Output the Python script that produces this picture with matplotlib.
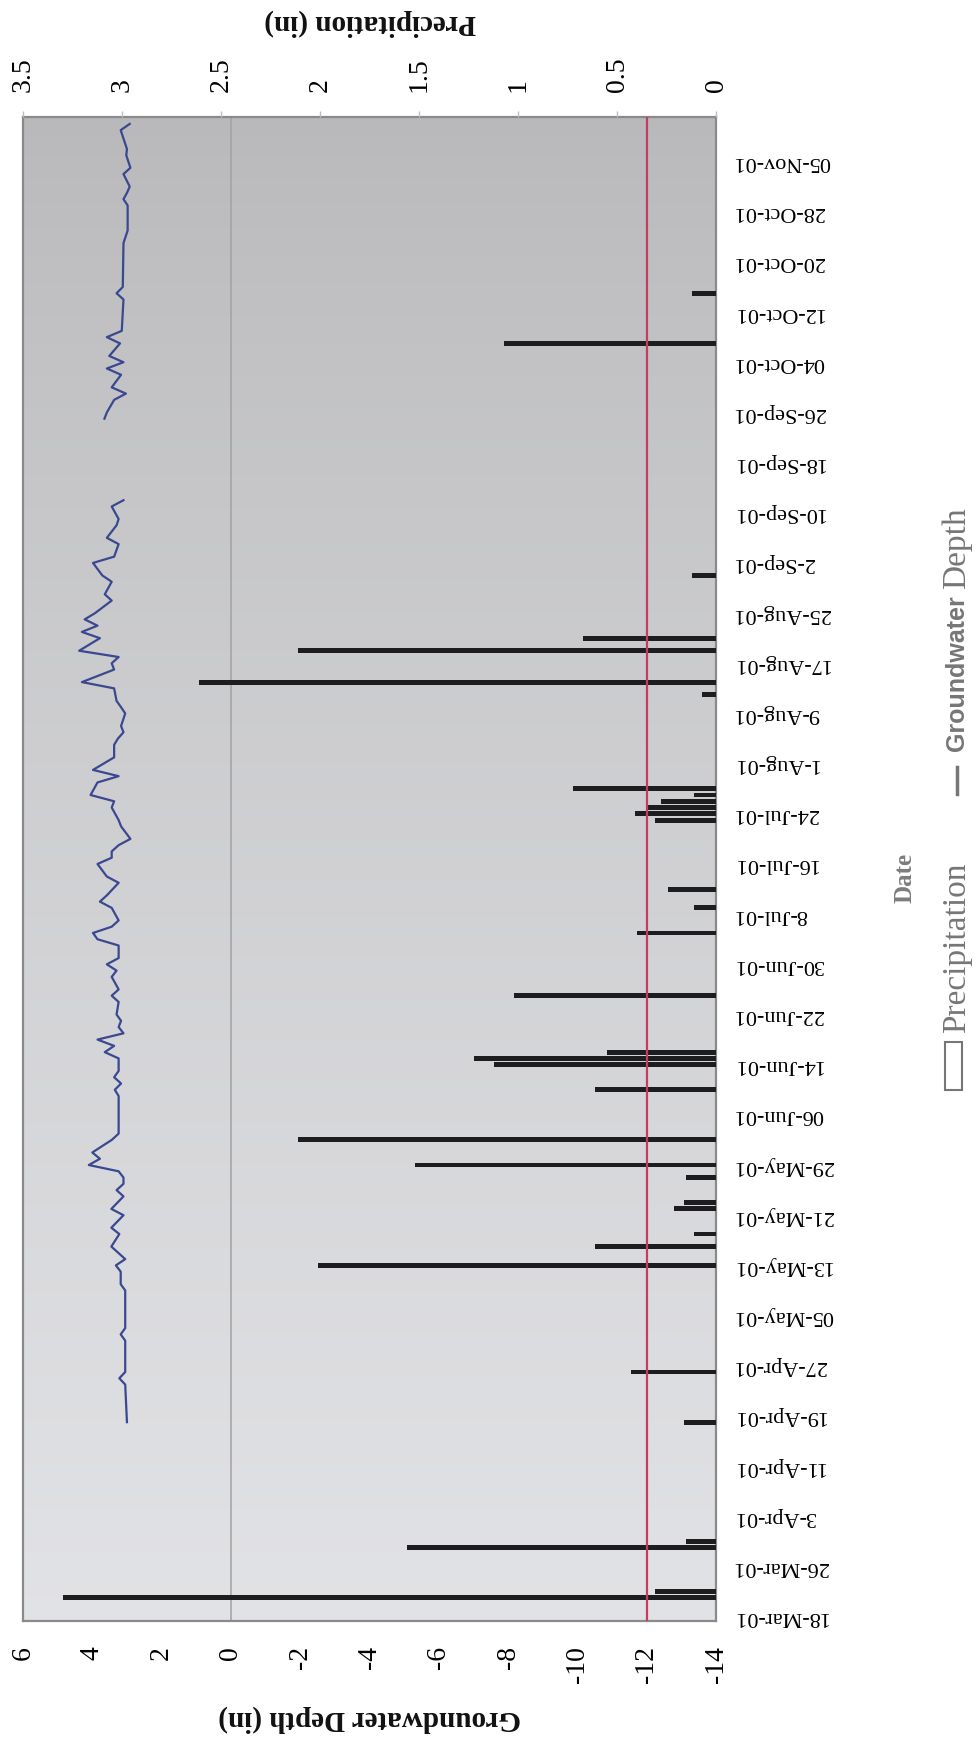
import numpy as np
import pandas as pd
import matplotlib
matplotlib.use('Agg')
import matplotlib.pyplot as plt
import matplotlib.dates as mdates
from matplotlib.lines import Line2D
from matplotlib.patches import Rectangle

plt.rcParams['axes.unicode_minus'] = False
serif = ['Liberation Serif', 'DejaVu Serif']
narrow = ['Liberation Sans Narrow', 'Liberation Sans', 'DejaVu Sans']

# daily rainfall (in), only days with rain
rain_dates = ['2001-03-21', '2001-03-22', '2001-03-29', '2001-03-30', '2001-04-18',
              '2001-04-26', '2001-05-13', '2001-05-16', '2001-05-18', '2001-05-22',
              '2001-05-23', '2001-05-27', '2001-05-29', '2001-06-02', '2001-06-10',
              '2001-06-14', '2001-06-15', '2001-06-16', '2001-06-25', '2001-07-05',
              '2001-07-09', '2001-07-12', '2001-07-23', '2001-07-24', '2001-07-25',
              '2001-07-26', '2001-07-27', '2001-07-28', '2001-08-12', '2001-08-14',
              '2001-08-19', '2001-08-21', '2001-08-31', '2001-10-07', '2001-10-15']
rain_in = [3.30, 0.31, 1.56, 0.15, 0.16,
           0.43, 2.01, 0.61, 0.11, 0.21,
           0.16, 0.15, 1.52, 2.11, 0.61,
           1.12, 1.22, 0.55, 1.02, 0.40,
           0.11, 0.24, 0.31, 0.41, 0.35,
           0.28, 0.11, 0.72, 0.07, 2.61,
           2.11, 0.67, 0.12, 1.07, 0.12]

# groundwater depth (in), first logger run
gw1_dates = ['2001-04-18', '2001-04-24', '2001-04-25', '2001-04-26', '2001-05-01',
             '2001-05-02', '2001-05-03', '2001-05-06', '2001-05-09', '2001-05-10',
             '2001-05-12', '2001-05-13', '2001-05-14', '2001-05-16', '2001-05-18',
             '2001-05-19', '2001-05-21', '2001-05-22', '2001-05-24', '2001-05-25',
             '2001-05-26', '2001-05-27', '2001-05-28', '2001-05-29', '2001-05-30',
             '2001-05-31', '2001-06-02', '2001-06-03', '2001-06-09', '2001-06-10',
             '2001-06-11', '2001-06-12', '2001-06-13', '2001-06-15', '2001-06-16',
             '2001-06-17', '2001-06-18', '2001-06-19', '2001-06-20', '2001-06-21',
             '2001-06-22', '2001-06-24', '2001-06-25', '2001-06-26', '2001-06-28',
             '2001-06-29', '2001-06-30', '2001-07-01', '2001-07-03', '2001-07-04',
             '2001-07-05', '2001-07-06', '2001-07-07', '2001-07-09', '2001-07-10',
             '2001-07-11', '2001-07-13', '2001-07-14', '2001-07-16', '2001-07-17',
             '2001-07-18', '2001-07-19', '2001-07-20', '2001-07-22', '2001-07-23',
             '2001-07-25', '2001-07-26', '2001-07-27', '2001-07-29', '2001-07-30',
             '2001-07-31', '2001-08-02', '2001-08-04', '2001-08-05', '2001-08-06',
             '2001-08-07', '2001-08-09', '2001-08-10', '2001-08-11', '2001-08-13',
             '2001-08-14', '2001-08-16', '2001-08-17', '2001-08-18', '2001-08-19',
             '2001-08-21', '2001-08-22', '2001-08-23', '2001-08-24', '2001-08-25',
             '2001-08-27', '2001-08-28', '2001-08-30', '2001-08-31', '2001-09-02',
             '2001-09-03', '2001-09-05', '2001-09-06', '2001-09-08', '2001-09-09',
             '2001-09-11', '2001-09-12']
gw1_depth = [3.00, 3.05, 3.22, 3.05, 3.05,
             3.18, 3.05, 3.05, 3.05, 3.18,
             3.18, 3.32, 3.05, 3.45, 3.22,
             3.45, 3.10, 3.45, 3.10, 3.30,
             3.10, 3.10, 3.24, 4.10, 3.78,
             4.00, 3.44, 3.24, 3.24, 3.35,
             3.17, 3.37, 3.24, 3.24, 3.64,
             3.37, 3.85, 3.10, 3.24, 3.17,
             3.30, 3.24, 3.44, 3.24, 3.44,
             3.30, 3.58, 3.24, 3.24, 3.85,
             3.98, 3.44, 3.24, 3.44, 3.78,
             3.58, 3.24, 3.58, 3.85, 3.44,
             3.44, 3.24, 2.90, 3.17, 3.24,
             3.44, 3.37, 4.05, 3.85, 3.24,
             3.98, 3.37, 3.37, 3.26, 3.10,
             3.17, 3.05, 3.17, 3.30, 3.37,
             4.30, 3.37, 3.44, 3.24, 4.38,
             3.78, 4.30, 3.85, 4.22, 3.92,
             3.44, 3.64, 3.44, 3.71, 3.98,
             3.37, 3.24, 3.58, 3.30, 3.24,
             3.44, 3.10]

# second logger run after the September gap
gw2_dates = ['2001-09-25', '2001-09-26', '2001-09-28', '2001-09-29', '2001-09-30',
             '2001-10-02', '2001-10-03', '2001-10-04', '2001-10-05', '2001-10-07',
             '2001-10-08', '2001-10-09', '2001-10-14', '2001-10-15', '2001-10-16',
             '2001-10-23', '2001-10-25', '2001-10-29', '2001-10-30', '2001-10-31',
             '2001-11-01', '2001-11-03', '2001-11-04', '2001-11-06', '2001-11-07',
             '2001-11-10', '2001-11-11']
gw2_depth = [3.65, 3.58, 3.37, 3.03, 3.44,
             3.17, 3.58, 3.10, 3.51, 3.20,
             3.58, 3.15, 3.10, 3.30, 3.12,
             3.10, 2.98, 2.98, 3.10, 3.00,
             2.92, 3.10, 2.90, 3.02, 3.00,
             3.18, 2.92]

date_labels = ['18-Mar-01', '26-Mar-01', '3-Apr-01', '11-Apr-01', '19-Apr-01',
               '27-Apr-01', '05-May-01', '13-May-01', '21-May-01', '29-May-01',
               '06-Jun-01', '14-Jun-01', '22-Jun-01', '30-Jun-01', '8-Jul-01',
               '16-Jul-01', '24-Jul-01', '1-Aug-01', '9-Aug-01', '17-Aug-01',
               '25-Aug-01', '2-Sep-01', '10-Sep-01', '18-Sep-01', '26-Sep-01',
               '04-Oct-01', '12-Oct-01', '20-Oct-01', '28-Oct-01', '05-Nov-01']
depth_ticks = [6, 4, 2, 0, -2, -4, -6, -8, -10, -12, -14]
precip_ticks = [3.5, 3, 2.5, 2, 1.5, 1, 0.5, 0]
precip_labels = ['3.5', '3', '2.5', '2', '1.5', '1', '0.5', '0']
alarm_depth = -12

def dnum(d):
    return mdates.date2num(pd.to_datetime(d))

tick_pos = dnum(pd.date_range('2001-03-18', '2001-11-05', freq='8D'))
ylo = dnum('2001-03-18') - 0.7
yhi = dnum('2001-11-05') + 7.1

W, H = 980, 1743
fig = plt.figure(figsize=(W / 100, H / 100), dpi=100)
fig.patch.set_facecolor('white')

# chart is laid on its side: dates run up, depth/rain run across
ax = fig.add_axes([23 / W, 1 - 1621 / H, 693 / W, 1504 / H])
ax2 = ax.twiny()

# grey shaded plot area, darker at the top
n = 256
t = np.linspace(0, 1, n)[:, None]
top = np.array([0.725, 0.725, 0.735])
bot = np.array([0.885, 0.888, 0.90])
bg = (top + (bot - top) * t ** 0.8)[:, None, :]
ax.imshow(bg, extent=(0, 1, 0, 1), transform=ax.transAxes, aspect='auto',
          interpolation='bilinear', zorder=0)

ax.axvline(0, color='#a2a2a2', lw=1.1, zorder=1)
ax.plot(gw1_depth, dnum(gw1_dates), color='#3a4890', lw=1.6, zorder=3)
ax.plot(gw2_depth, dnum(gw2_dates), color='#3a4890', lw=1.6, zorder=3)

ax2.barh(dnum(rain_dates), rain_in, height=0.78, color='#1d1d1f', zorder=2)
ax2.add_line(Line2D([alarm_depth, alarm_depth], [0, 1], transform=ax.get_xaxis_transform(),
                    color='#c63a64', lw=1.6, zorder=4))

ax.set_xlim(6, -14)
ax2.set_xlim(3.5, 0)
ax.set_ylim(ylo, yhi)

ax.set_xticks(depth_ticks)
ax.set_xticklabels([str(v) for v in depth_ticks], rotation=90, fontsize=20, family=serif)
ax.tick_params(axis='x', length=0, pad=18)

ax2.set_xticks(precip_ticks)
ax2.set_xticklabels(precip_labels, rotation=90, fontsize=20, family=serif)
ax2.tick_params(axis='x', length=4, color='#bdbdbd', width=1, pad=14)

ax.yaxis.tick_right()
ax.set_yticks(tick_pos)
ax.set_yticklabels(date_labels, rotation=180, ha='left', va='center', fontsize=16,
                   family=serif)
ax.tick_params(axis='y', length=0, pad=12)

for s in ax.spines.values():
    s.set_color('#8a8a8a')
    s.set_linewidth(1.6)
for s in ax2.spines.values():
    s.set_visible(False)

fig.text(370 / W, 1 - 23 / H, 'Precipitation (in)', rotation=180, ha='center', va='center',
         fontsize=21, fontweight='bold', family=serif, color='#111111')
fig.text(370 / W, 1 - 1719 / H, 'Groundwater Depth (in)', rotation=180, ha='center',
         va='center', fontsize=21, fontweight='bold', family=serif, color='#111111')
fig.text(905 / W, 1 - 878 / H, 'Date', rotation=90, ha='center', va='center',
         fontsize=18, fontweight='bold', family=serif, color='#7c7c7c')

# legend, turned with the chart
lc = '#767676'
lx = 957
fig.add_artist(Rectangle((945 / W, 1 - 1090 / H), 17 / W, 48 / H, transform=fig.transFigure,
                         facecolor='white', edgecolor=lc, lw=1.5))
fig.text(lx / W, 1 - 1033 / H, 'Precipitation', rotation=90, ha='center', va='bottom',
         fontsize=24, family=serif, color=lc)
fig.add_artist(Line2D([lx / W, lx / W], [1 - 794 / H, 1 - 767 / H], transform=fig.transFigure,
                      color=lc, lw=2.5))
gw_txt = fig.text(lx / W, 1 - 751 / H, 'Groundwater', rotation=90, ha='center', va='bottom',
                  fontsize=18, fontweight='bold', family=narrow, color=lc)
fig.canvas.draw()
bb = gw_txt.get_window_extent()
fig.text(lx / W, (bb.y1 + 6) / H, 'Depth', rotation=90, ha='center', va='bottom',
         fontsize=24, family=serif, color=lc)

fig.savefig('out.png', dpi=100)
